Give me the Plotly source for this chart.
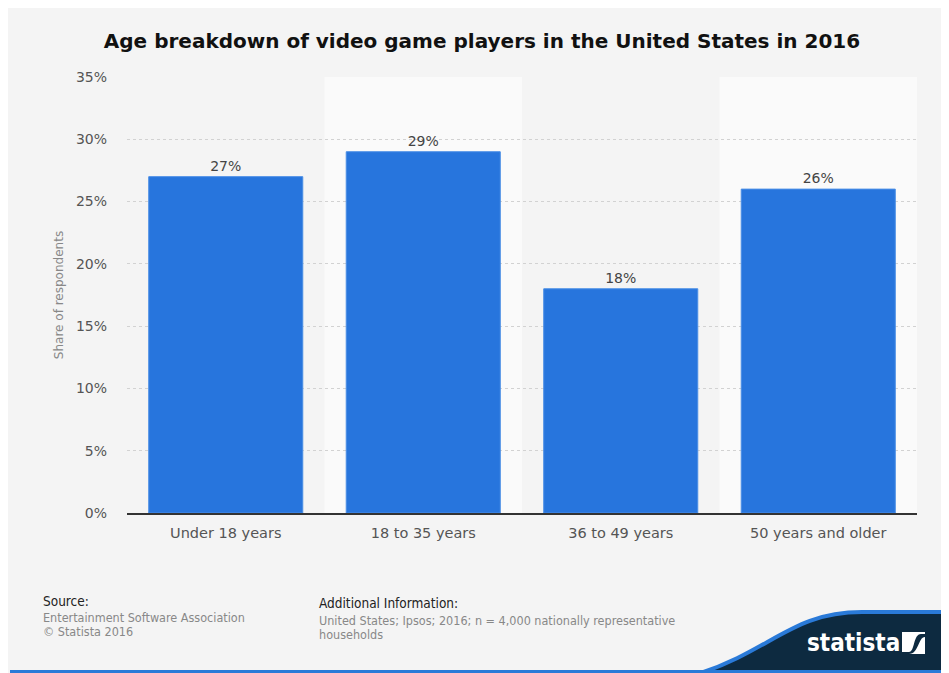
import plotly.graph_objects as go

# data
CATEGORIES = ["Under 18 years", "18 to 35 years", "36 to 49 years", "50 years and older"]
SHARES = [27, 29, 18, 26]

# the page puts the figure 8px in from the corner; reference coords are screen pixels
OFF = 8
W, H = 949 - OFF, 673 - OFF
L, R, T, B = 127, 917, 77, 513  # plot area, screen pixels

BAR_COLOR = "#2775dd"
NAVY = "#0d2a40"
BLUE = "#2a7ad8"


def px(x):
    return (x - L) / (R - L)


def py(y):
    return (B - y) / (B - T)


fig = go.Figure(go.Bar(
    x=CATEGORIES, y=SHARES,
    marker=dict(color=BAR_COLOR, line=dict(color="#4a8ee6", width=1)),
    width=0.78,
    text=[f"{v}%" for v in SHARES], textposition="outside",
    textfont=dict(family="DejaVu Sans", size=14, color="#444"),
    cliponaxis=False,
))

shapes = []
# alternating lighter category bands
for i in (1, 3):
    shapes.append(dict(type="rect", xref="x", yref="paper", x0=i - 0.5, x1=i + 0.5,
                       y0=0, y1=1, fillcolor="#fafafa", line_width=0, layer="below"))

# footer swoosh
navy_path = (f"M {px(698)},{py(674)} C {px(772)},{py(650)} {px(792)},{py(612)} {px(862)},{py(612)} "
             f"L {px(952)},{py(612)} L {px(952)},{py(674)} Z")
shapes.append(dict(type="path", xref="paper", yref="paper", path=navy_path,
                   fillcolor=NAVY, line=dict(color=BLUE, width=4), layer="above"))
shapes.append(dict(type="line", xref="paper", yref="paper", x0=px(10), x1=px(952),
                   y0=py(671.5), y1=py(671.5), line=dict(color=BLUE, width=3)))
# logo icon
shapes.append(dict(type="rect", xref="paper", yref="paper", x0=px(902), x1=px(925),
                   y0=py(654), y1=py(632), fillcolor="white", line_width=0))
icon_path = (f"M {px(902)},{py(652)} L {px(909)},{py(652)} C {px(915)},{py(652)} {px(913)},{py(634)} "
             f"{px(921)},{py(634)} L {px(925)},{py(634)} L {px(925)},{py(637)} "
             f"C {px(918)},{py(637)} {px(919)},{py(654)} {px(909)},{py(654)} L {px(902)},{py(654)} Z")
shapes.append(dict(type="path", xref="paper", yref="paper", path=icon_path,
                   fillcolor=NAVY, line_width=0))

small = dict(family="DejaVu Sans Condensed, DejaVu Sans", size=12.5)
annotations = [
    dict(text="Source:", x=px(41), y=py(601), font=dict(small, size=13.5, color="#222")),
    dict(text="Entertainment Software Association", x=px(41), y=py(617), font=dict(small, color="#888")),
    dict(text="© Statista 2016", x=px(41), y=py(631), font=dict(small, color="#888")),
    dict(text="Additional Information:", x=px(317), y=py(603), font=dict(small, size=13.5, color="#222")),
    dict(text="United States; Ipsos; 2016; n = 4,000 nationally representative",
         x=px(317), y=py(620), font=dict(small, color="#888")),
    dict(text="households", x=px(317), y=py(634), font=dict(small, color="#888")),
    dict(text="<b>statista</b>", x=px(805), y=py(643),
         font=dict(family="DejaVu Sans Condensed, DejaVu Sans", size=24, color="white")),
]
for a in annotations:
    a.update(xref="paper", yref="paper", xanchor="left", yanchor="middle", showarrow=False)

fig.update_layout(
    width=W, height=H,
    margin=dict(l=L - OFF, r=W - (R - OFF), t=T - OFF, b=H - (B - OFF)),
    paper_bgcolor="#f4f4f4", plot_bgcolor="#f4f4f4",
    title=dict(text="<b>Age breakdown of video game players in the United States in 2016</b>",
               x=px(482), xanchor="center", xref="paper", y=1 - (41 - OFF) / H, yanchor="middle",
               font=dict(family="DejaVu Sans", size=20, color="#111")),
    font=dict(family="DejaVu Sans", color="#555"),
    shapes=shapes, annotations=annotations,
    showlegend=False,
)
fig.update_xaxes(showline=True, linecolor="#333", linewidth=1.5, ticks="",
                 tickfont=dict(size=14.5, color="#555"), showgrid=False, ticklabelstandoff=6)
fig.update_yaxes(range=[0, 35], dtick=5, ticksuffix="%", showline=False, zeroline=False,
                 gridcolor="#d2d2d2", griddash="dot", gridwidth=1,
                 tickfont=dict(size=14, color="#555"), ticklabelstandoff=19,
                 title=dict(text="Share of respondents", font=dict(size=12, color="#888"), standoff=9))

fig.write_html("out.html")
